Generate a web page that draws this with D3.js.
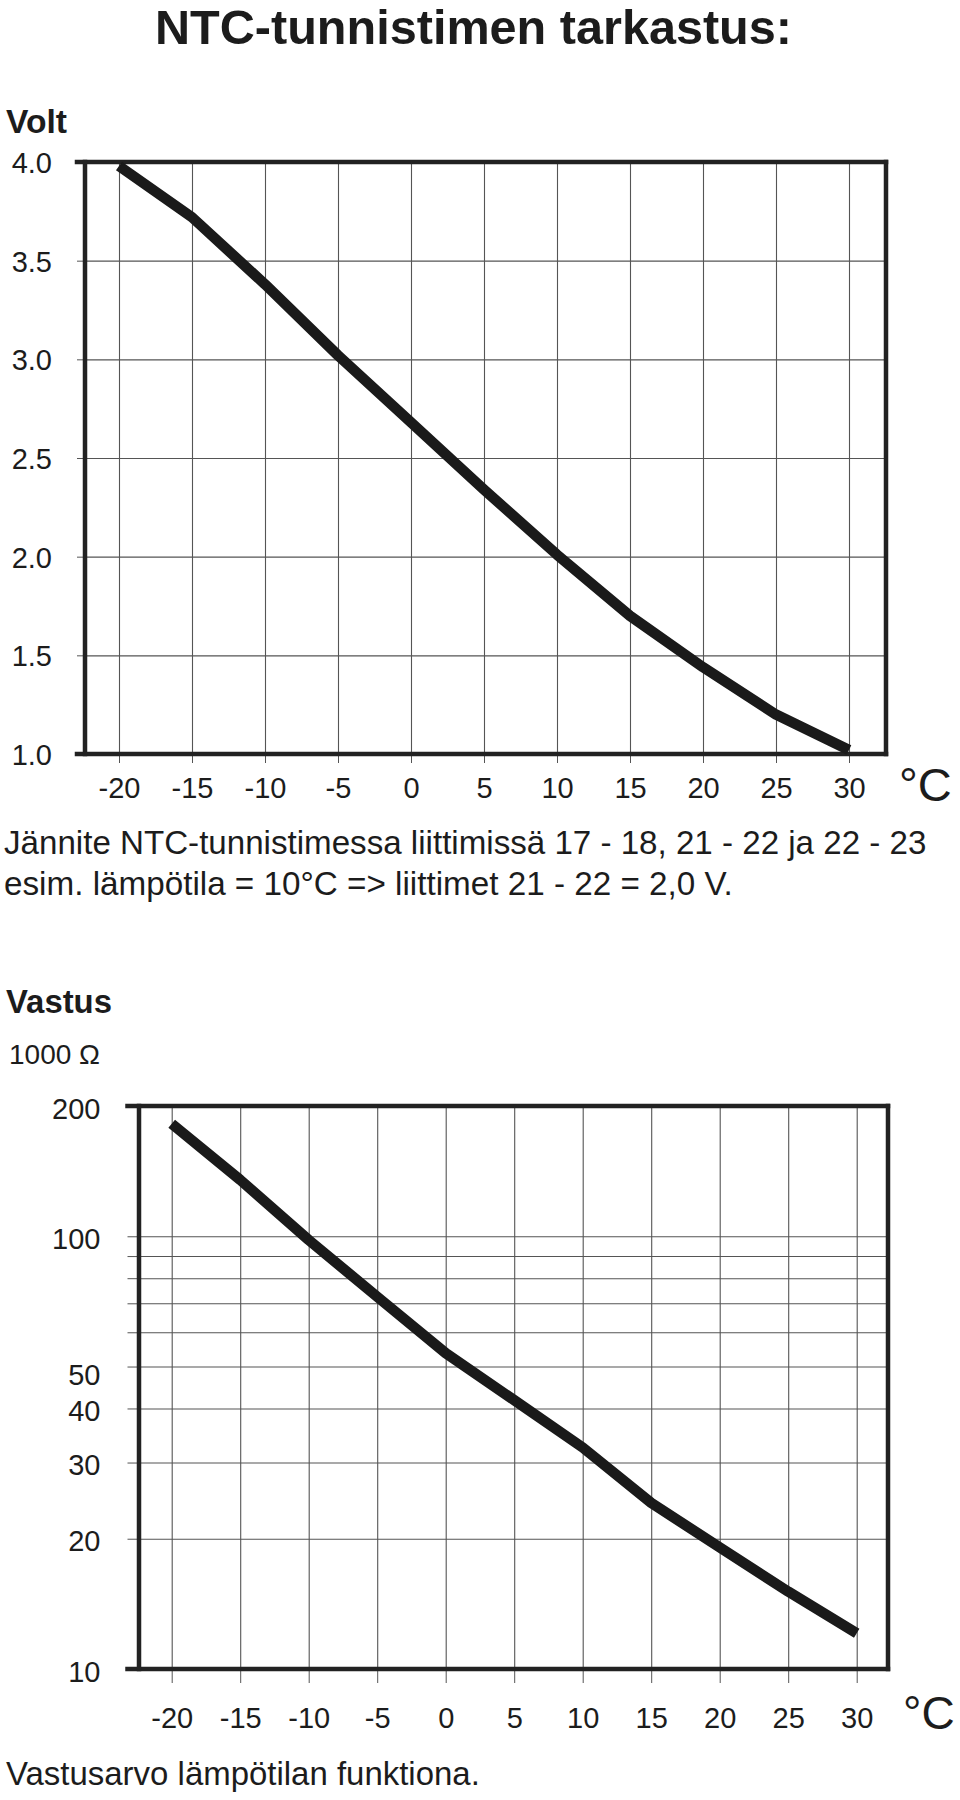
<!DOCTYPE html>
<html>
<head>
<meta charset="utf-8">
<script src="https://cdn.jsdelivr.net/npm/d3@7"></script>
<style>
  body { margin: 0; background: #fff; }
  svg { display: block; }
</style>
</head>
<body>
<script>
// ---------------- DATA ----------------
const temps = [-20, -15, -10, -5, 0, 5, 10, 15, 20, 25, 30];
const voltage = [3.98, 3.72, 3.38, 3.02, 2.68, 2.34, 2.01, 1.70, 1.44, 1.20, 1.02];
const resistance = [182, 135, 98, 72.5, 53.7, 41.8, 32.5, 24.2, 19.1, 15.1, 12.1];
const voltTicks = [4.0, 3.5, 3.0, 2.5, 2.0, 1.5, 1.0];
const resLines = [200, 100, 90, 80, 70, 60, 50, 40, 30, 20, 10];
const resLabels = [200, 100, 50, 40, 30, 20, 10];

const titleText = "NTC-tunnistimen tarkastus:";
const voltTitle = "Volt";
const caption1 = "Jännite NTC-tunnistimessa liittimissä 17 - 18, 21 - 22 ja 22 - 23";
const caption2 = "esim. lämpötila = 10°C => liittimet 21 - 22 = 2,0 V.";
const resTitle = "Vastus";
const resUnit = "1000 Ω";
const caption3 = "Vastusarvo lämpötilan funktiona.";
const unitText = "°C";

// ---------------- SETUP ----------------
const FONT = "'Liberation Sans', Arial, Helvetica, sans-serif";
const INK = "#1c1c1c";
const GRID = "#555";

const svg = d3.select("body").append("svg")
  .attr("width", 960).attr("height", 1800)
  .style("font-family", FONT);

function fit(sel, target) {
  const w = sel.node().getComputedTextLength();
  const fs = parseFloat(sel.attr("font-size"));
  sel.attr("font-size", fs * target / w);
}

function addText(x, y, txt, size, weight, target) {
  const t = svg.append("text").attr("x", x).attr("y", y)
    .attr("font-size", size).attr("font-weight", weight || "normal")
    .attr("fill", INK).text(txt);
  if (target) fit(t, target);
  return t;
}

function unitLabel(x, y, size) {
  return svg.append("text").attr("x", x).attr("y", y)
    .attr("font-size", size).attr("fill", INK).text(unitText);
}

const tempFmt = d => String(d);   // plain hyphen-minus as in the reference

// ---------------- TEXTS ----------------
addText(155, 44, titleText, 48, "bold", 637);
addText(6, 133, voltTitle, 32, "bold", 61);
addText(4, 854, caption1, 30, "normal", 923);
addText(4, 895, caption2, 30, "normal", 729);
addText(6, 1013, resTitle, 32, "bold", 106);
addText(9, 1064, resUnit, 28, "normal", 91);
addText(6, 1785, caption3, 30, "normal", 474);

// ---------------- CHART 1: VOLTAGE ----------------
(function () {
  const L = 85, R = 886, T = 162, B = 754;
  const x = d3.scaleLinear().domain([-20, 30]).range([119, 849]);
  const y = d3.scaleLinear().domain([1, 4]).range([B, T]);

  const gy = svg.append("g").attr("transform", `translate(${L},0)`)
    .call(d3.axisLeft(y).tickValues(voltTicks).tickSizeInner(8).tickSizeOuter(0)
      .tickPadding(25).tickFormat(d3.format(".1f")));
  gy.select(".domain").remove();
  gy.selectAll("text").attr("font-size", 29).attr("font-family", FONT)
    .attr("fill", INK).attr("dy", "0.36em");
  gy.selectAll("line").attr("stroke", GRID);

  const gyg = svg.append("g").attr("transform", `translate(${L},0)`)
    .call(d3.axisLeft(y).tickValues(voltTicks).tickSize(-(R - L)).tickFormat(""));
  gyg.select(".domain").remove();
  gyg.selectAll("line").attr("stroke", GRID).attr("stroke-width", 1.1);

  const gx = svg.append("g").attr("transform", `translate(0,${B})`)
    .call(d3.axisBottom(x).tickValues(temps).tickSizeInner(9).tickSizeOuter(0)
      .tickPadding(14.5).tickFormat(tempFmt));
  gx.select(".domain").remove();
  gx.selectAll("text").attr("font-size", 29).attr("font-family", FONT).attr("fill", INK);
  gx.selectAll("line").attr("stroke", GRID);

  const gxg = svg.append("g").attr("transform", `translate(0,${B})`)
    .call(d3.axisBottom(x).tickValues(temps).tickSize(-(B - T)).tickFormat(""));
  gxg.select(".domain").remove();
  gxg.selectAll("line").attr("stroke", GRID).attr("stroke-width", 1.1);

  const fr = svg.append("g").attr("stroke", "#222").attr("stroke-width", 4.5).attr("fill", "none")
    .attr("stroke-linecap", "square");
  fr.append("line").attr("x1", L - 8).attr("x2", R).attr("y1", y(4)).attr("y2", y(4));
  fr.append("line").attr("x1", L - 8).attr("x2", R).attr("y1", y(1)).attr("y2", y(1));
  fr.append("line").attr("x1", L).attr("x2", L).attr("y1", y(4)).attr("y2", y(1));
  fr.append("line").attr("x1", R).attr("x2", R).attr("y1", y(4)).attr("y2", y(1));

  const line = d3.line().x((d, i) => x(temps[i])).y(d => y(d));
  svg.append("path").datum(voltage).attr("d", line)
    .attr("fill", "none").attr("stroke", "#1a1a1a").attr("stroke-width", 10.5)
    .attr("stroke-linejoin", "round").attr("stroke-linecap", "butt");

  unitLabel(899, 801, 47);
})();

// ---------------- CHART 2: RESISTANCE ----------------
(function () {
  const L = 139, R = 888, T = 1106, B = 1669;
  const x = d3.scaleLinear().domain([-20, 30]).range([171.7, 856.7]);
  const y = d3.scaleLog().domain([10, 200]).range([B, T]);

  const gy = svg.append("g").attr("transform", `translate(${L},0)`)
    .call(d3.axisLeft(y).tickValues(resLines).tickSizeInner(11.5).tickSizeOuter(0)
      .tickPadding(27).tickFormat(d => resLabels.includes(d) ? String(d) : ""));
  gy.select(".domain").remove();
  gy.selectAll("text").attr("font-size", 29).attr("font-family", FONT)
    .attr("fill", INK).attr("dy", d => d === 50 ? "0.62em" : "0.42em");
  gy.selectAll("line").attr("stroke", GRID);

  const gyg = svg.append("g").attr("transform", `translate(${L},0)`)
    .call(d3.axisLeft(y).tickValues(resLines).tickSize(-(R - L)).tickFormat(""));
  gyg.select(".domain").remove();
  gyg.selectAll("line").attr("stroke", GRID).attr("stroke-width", 1.1);

  const gx = svg.append("g").attr("transform", `translate(0,${B})`)
    .call(d3.axisBottom(x).tickValues(temps).tickSizeInner(14).tickSizeOuter(0)
      .tickPadding(24.5).tickFormat(tempFmt));
  gx.select(".domain").remove();
  gx.selectAll("text").attr("font-size", 29).attr("font-family", FONT).attr("fill", INK);
  gx.selectAll("line").attr("stroke", GRID);

  const gxg = svg.append("g").attr("transform", `translate(0,${B})`)
    .call(d3.axisBottom(x).tickValues(temps).tickSize(-(B - T)).tickFormat(""));
  gxg.select(".domain").remove();
  gxg.selectAll("line").attr("stroke", GRID).attr("stroke-width", 1.1);

  const fr = svg.append("g").attr("stroke", "#222").attr("stroke-width", 4.5).attr("fill", "none")
    .attr("stroke-linecap", "square");
  fr.append("line").attr("x1", L - 11.5).attr("x2", R).attr("y1", y(200)).attr("y2", y(200));
  fr.append("line").attr("x1", L - 11.5).attr("x2", R).attr("y1", y(10)).attr("y2", y(10));
  fr.append("line").attr("x1", L).attr("x2", L).attr("y1", y(200)).attr("y2", y(10));
  fr.append("line").attr("x1", R).attr("x2", R).attr("y1", y(200)).attr("y2", y(10));

  const line = d3.line().x((d, i) => x(temps[i])).y(d => y(d));
  svg.append("path").datum(resistance).attr("d", line)
    .attr("fill", "none").attr("stroke", "#1a1a1a").attr("stroke-width", 10.5)
    .attr("stroke-linejoin", "round").attr("stroke-linecap", "butt");

  unitLabel(903, 1729, 46);
})();
</script>
</body>
</html>
